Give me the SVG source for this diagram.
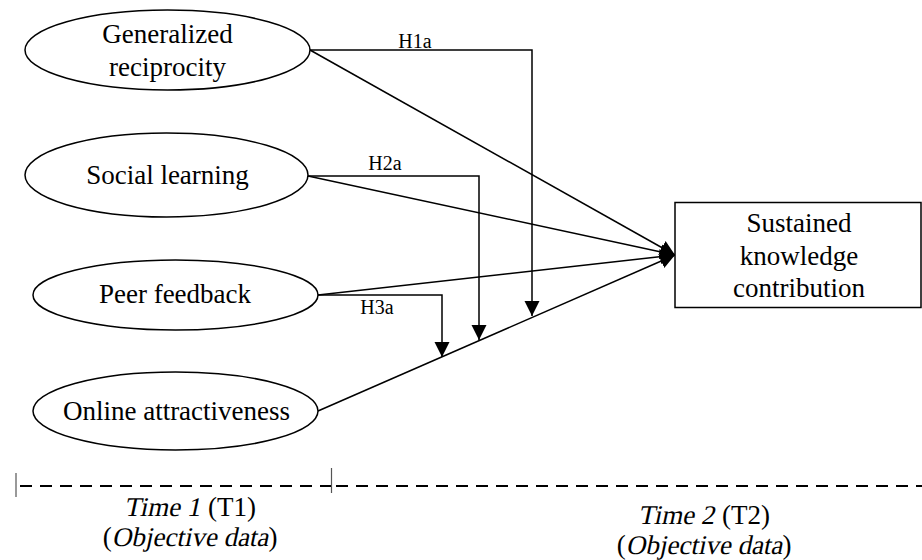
<svg xmlns="http://www.w3.org/2000/svg" width="922" height="560" viewBox="0 0 922 560">
<style>
.node{fill:#fff;stroke:#000;stroke-width:1.5}
.t{font-family:"Liberation Serif","Times New Roman",serif;font-size:27px;fill:#000;text-anchor:middle}
.s{font-family:"Liberation Serif","Times New Roman",serif;font-size:27px;fill:#000;text-anchor:start}
.lbl{font-family:"Liberation Serif","Times New Roman",serif;font-size:20px;fill:#000;text-anchor:middle}
.c{fill:none;stroke:#000;stroke-width:1.5}
.dash{fill:none;stroke:#000;stroke-width:1.8;stroke-dasharray:12 8}
.tick{stroke:#555;stroke-width:1.2}
</style>
<defs>
<marker id="ah" markerUnits="userSpaceOnUse" markerWidth="16" markerHeight="16" refX="15" refY="8" orient="auto">
<path d="M0,0.5 L15,8 L0,15.5 z" fill="#000"/>
</marker>
</defs>
<g id="connectors">
<polyline class="c" points="310,50 532,50 532,316" marker-end="url(#ah)"/>
<line class="c" x1="310" y1="50" x2="675" y2="255" marker-end="url(#ah)"/>
<polyline class="c" points="308,176 479,176 479,340" marker-end="url(#ah)"/>
<line class="c" x1="308" y1="176" x2="675" y2="255" marker-end="url(#ah)"/>
<polyline class="c" points="318,295 442,295 442,357" marker-end="url(#ah)"/>
<line class="c" x1="318" y1="295" x2="675" y2="255" marker-end="url(#ah)"/>
<line class="c" x1="318" y1="411" x2="675" y2="255" marker-end="url(#ah)"/>
<text class="lbl" x="415" y="48">H1a</text>
<text class="lbl" x="385" y="170">H2a</text>
<text class="lbl" x="377" y="314">H3a</text>
</g>
<g id="n1">
<ellipse class="node" cx="167.5" cy="50" rx="142.5" ry="40"/>
<text class="t" x="167.5" y="43">Generalized</text>
<text class="t" x="167.5" y="76">reciprocity</text>
</g>
<g id="n2">
<ellipse class="node" cx="166.5" cy="175" rx="141.5" ry="42"/>
<text class="t" x="167.5" y="184">Social learning</text>
</g>
<g id="n3">
<ellipse class="node" cx="175.5" cy="295" rx="142.5" ry="35"/>
<text class="t" x="175" y="303">Peer feedback</text>
</g>
<g id="n4">
<ellipse class="node" cx="175.5" cy="411" rx="142.5" ry="39"/>
<text class="t" x="176.5" y="420">Online attractiveness</text>
</g>
<g id="n5">
<rect class="node" x="675" y="202.5" width="246" height="105"/>
<text class="t" x="799" y="232">Sustained</text>
<text class="t" x="799" y="265">knowledge</text>
<text class="t" x="799" y="297">contribution</text>
</g>
<g id="timeline">
<line class="tick" x1="16" y1="473" x2="16" y2="497"/>
<line class="tick" x1="331.5" y1="468" x2="331.5" y2="493"/>
<line class="dash" x1="20" y1="486" x2="331" y2="486"/>
<line class="dash" x1="336" y1="486" x2="922" y2="486"/>
<text class="s" transform="translate(124,516) skewX(-12)">Time 1</text>
<text class="s" x="208" y="516">(T1)</text>
<text class="s" x="102.7" y="546">(</text>
<text class="s" transform="translate(111.7,546) skewX(-12)">Objective data</text>
<text class="s" x="268.4" y="546">)</text>
<text class="s" transform="translate(638,524) skewX(-12)">Time 2</text>
<text class="s" x="722" y="524">(T2)</text>
<text class="s" x="616.7" y="554">(</text>
<text class="s" transform="translate(625.7,554) skewX(-12)">Objective data</text>
<text class="s" x="782.4" y="554">)</text>
</g>
</svg>
